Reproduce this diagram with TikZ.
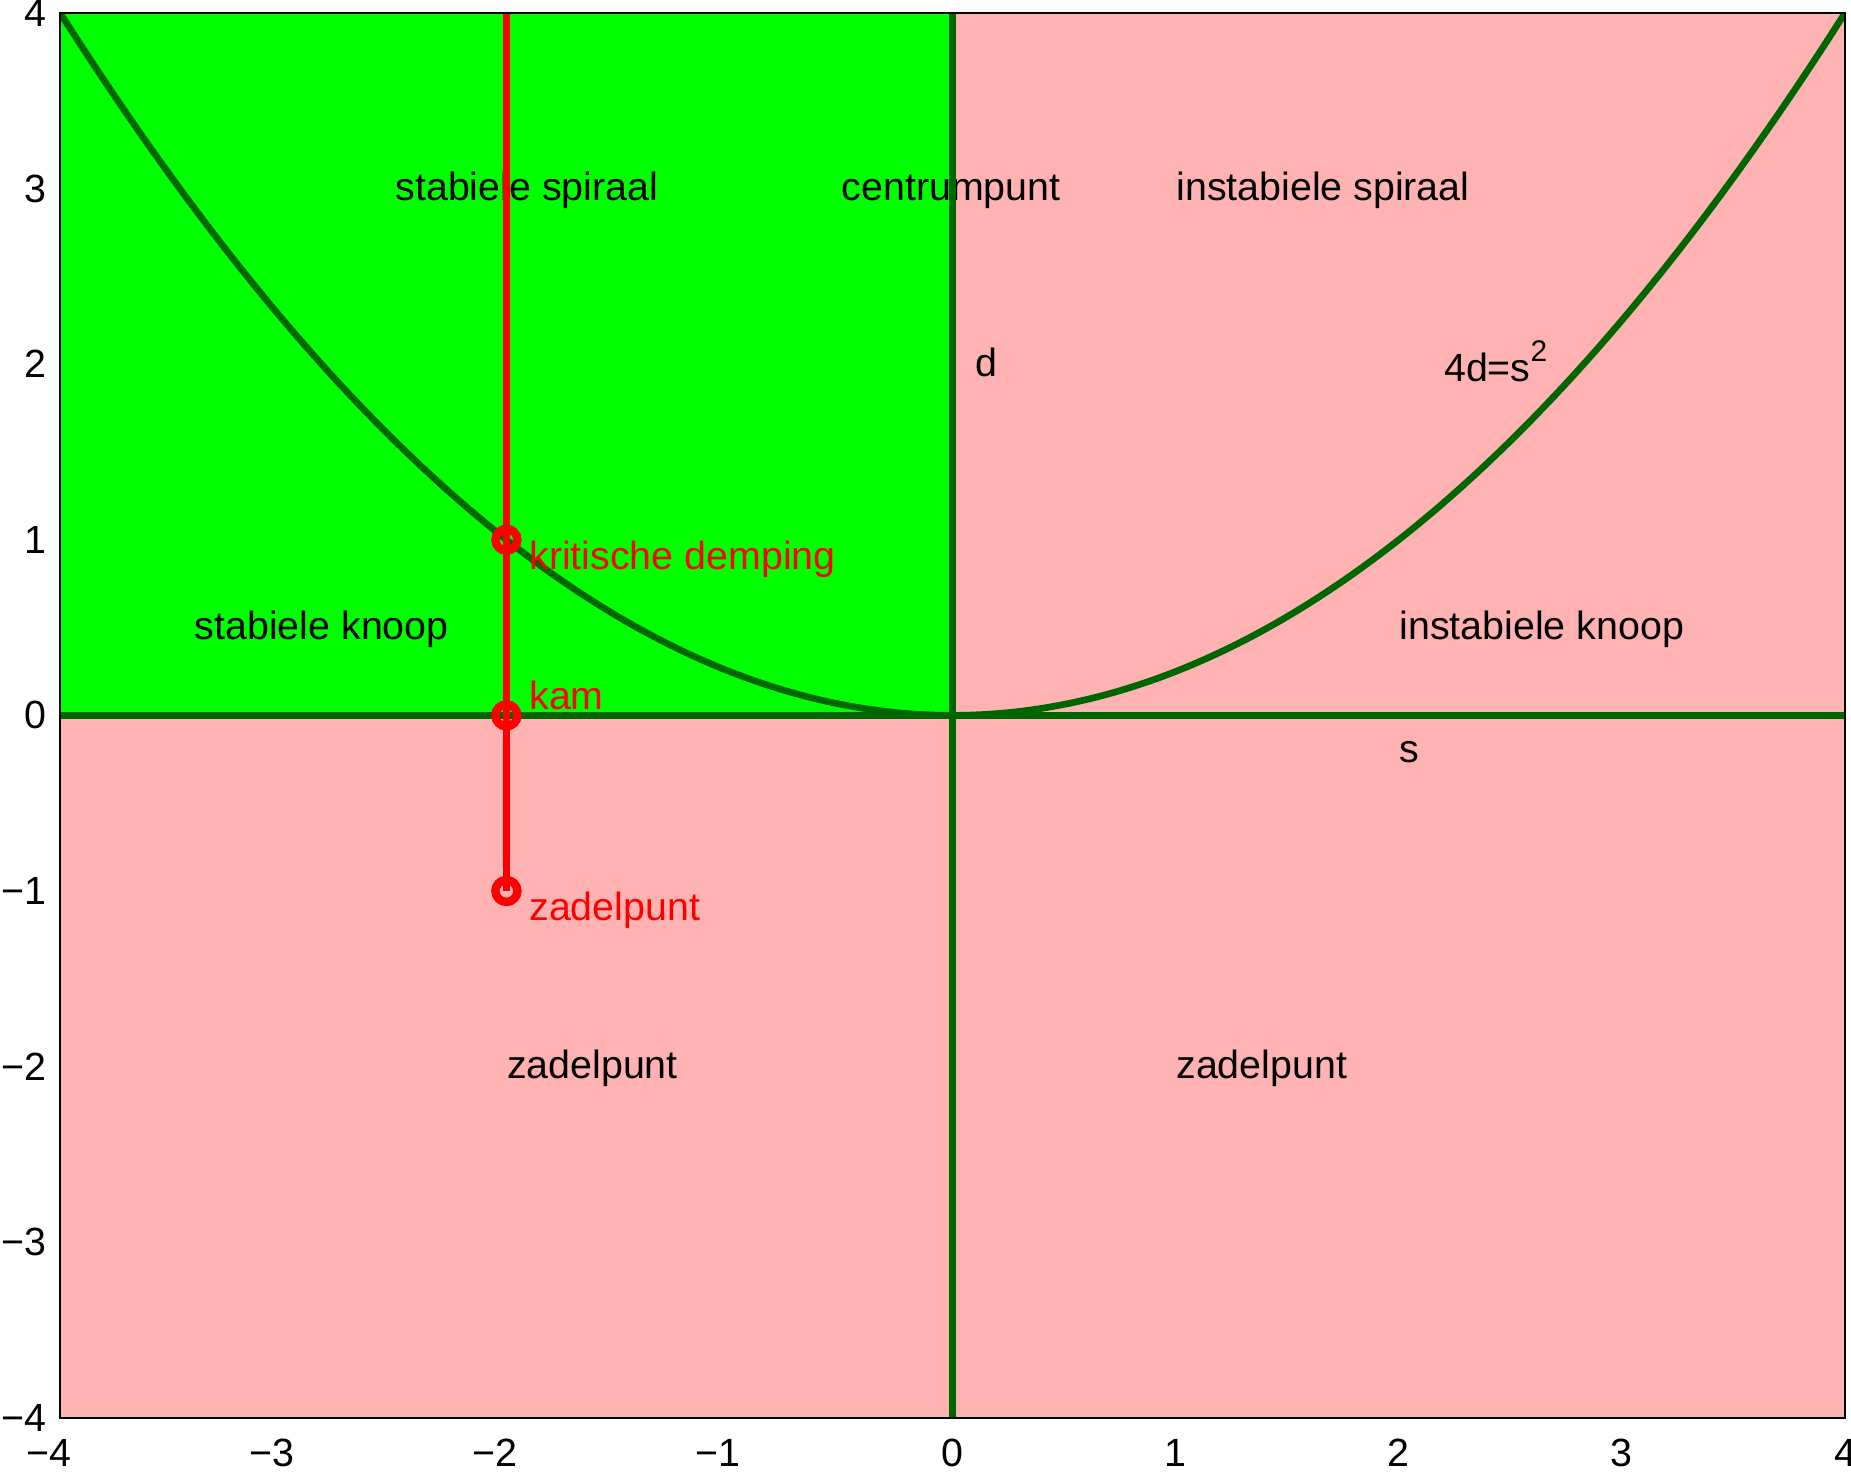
\documentclass[tikz,border=0pt]{standalone}
\usepackage{fontspec}
\setmainfont{Liberation Sans}
\usetikzlibrary{positioning}
\definecolor{stabgreen}{RGB}{0,255,0}
\definecolor{unstpink}{RGB}{255,178,178}
\definecolor{curvegreen}{RGB}{0,102,0}
\tikzset{
  curve/.style  = {line width=1.9pt, curvegreen},
  track/.style  = {line width=2.1pt, red},
  ring/.style   = {circle, draw=red, line width=2.3pt, inner sep=0pt, minimum size=0.22cm},
  frame/.style  = {line width=0.5pt, black},
  lbl/.style    = {anchor=base west, inner sep=0pt, yshift=-0.12cm,
                   font=\fontsize{11.2}{13}\selectfont},
  redlbl/.style = {lbl, text=red},
  xtick/.style  = {inner sep=0pt, yshift=-0.355cm, font=\fontsize{11.2}{13}\selectfont},
  ytick/.style  = {anchor=east, inner sep=0pt, xshift=-0.13cm, font=\fontsize{11.2}{13}\selectfont},
}
\newcommand{\mns}{\char"2212\relax}

\begin{document}
\begin{tikzpicture}[x=2.231cm,y=1.756cm]
  \useasboundingbox (-4.27,-4.325) rectangle (4.027,4.074);
  % regions
  \fill[unstpink] (-4,-4) rectangle (4,4);
  \fill[stabgreen] (-4,0) rectangle (0,4);
  % names of the regions
  \node[lbl] (sspir) at (-2.5,3) {stabiele spiraal};
  \node[lbl] (centr) at (-0.5,3) {centrumpunt};
  \node[lbl] (ispir) at (1,3) {instabiele spiraal};
  \node[lbl] (dlab) at (0.1,2) {d};
  \node[lbl,yshift=-0.05cm] (parab) at (2.2,2) {4d=s\raisebox{5.7pt}{\fontsize{8.5}{10}\selectfont 2}};
  \node[lbl] (sknp) at (-3.4,0.5) {stabiele knoop};
  \node[lbl] (iknp) at (2,0.5) {instabiele knoop};
  \node[lbl] (slab) at (2,-0.2) {s};
  \node[lbl] (zdl) at (-2,-2) {zadelpunt};
  \node[lbl] (zdr) at (1,-2) {zadelpunt};
  % parabola and axes
  \begin{scope}
    \clip (-4,-4) rectangle (4,4);
    \draw[curve] plot[domain=-4:4,samples=160] (\x,{\x*\x/4});
    \draw[curve] (-4,0) -- (4,0);
    \draw[curve] (0,-4) -- (0,4);
  \end{scope}
  % path for s=-2
  \node[ring] (kd) at (-2,1) {};
  \node[ring] (km) at (-2,0) {};
  \node[ring] (zp) at (-2,-1) {};
  \coordinate (top) at (-2,4);
  \draw[track] (zp.center) -- (top);
  \node[ring] at (kd) {};
  \node[ring] at (km) {};
  \node[ring] at (zp) {};
  \node[redlbl] (kdlab) at (-1.9,0.9) {kritische demping};
  \node[redlbl] (kmlab) at (-1.9,0.1) {kam};
  \node[redlbl] (zplab) at (-1.9,-1.1) {zadelpunt};
  % frame and ticks
  \draw[frame] (-4,-4) rectangle (4,4);
  \node[xtick] (x0) at (0,-4) {0};
  \node[ytick] (y0) at (-4,0) {0};
  \foreach \v in {1,...,4}{
    \node[xtick] (xn\v) at (-\v,-4) {\llap{\mns}\v};
    \node[xtick] (xp\v) at (\v,-4) {\v};
    \node[ytick] (yn\v) at (-4,-\v) {\mns\v};
    \node[ytick] (yp\v) at (-4,\v) {\v};
  }
\end{tikzpicture}
\end{document}
